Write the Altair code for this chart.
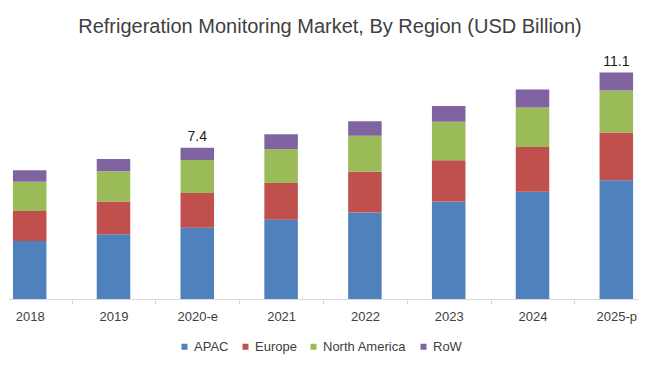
import altair as alt
import pandas as pd

years = ["2018", "2019", "2020-e", "2021", "2022", "2023", "2024", "2025-p"]
regions = ["APAC", "Europe", "North America", "RoW"]
apac = [2.84, 3.17, 3.49, 3.88, 4.24, 4.78, 5.25, 5.82]
europe = [1.47, 1.60, 1.70, 1.80, 1.99, 2.01, 2.19, 2.33]
north_america = [1.43, 1.49, 1.62, 1.66, 1.76, 1.89, 1.94, 2.06]
row = [0.57, 0.60, 0.60, 0.73, 0.72, 0.77, 0.88, 0.88]
total_labels = ["", "", "7.4", "", "", "", "", "11.1"]
colors = ["#4F81BD", "#C0504D", "#9BBB59", "#8064A2"]

series = [apac, europe, north_america, row]
records = []
for ri, (name, vals) in enumerate(zip(regions, series)):
    for y, v in zip(years, vals):
        records.append({"Year": y, "Region": name, "Value": v, "order": ri})
df = pd.DataFrame(records)

tot = pd.DataFrame({
    "Year": years,
    "Total": [sum(s[i] for s in series) for i in range(len(years))],
    "Label": total_labels,
})
tot = tot[tot["Label"] != ""]

step = 83.86
xscale = alt.Scale(domain=years, paddingInner=0.6, paddingOuter=0.0588)
yscale = alt.Scale(domain=[0, 12], nice=False)

bars = alt.Chart(df).mark_bar().encode(
    x=alt.X("Year:N", sort=years, scale=xscale, title=None,
            axis=alt.Axis(labelAngle=0, labelFontSize=13, labelColor="#404040",
                          labelFont="Liberation Sans", tickSize=5, tickColor="#d9d9d9",
                          domainColor="#d9d9d9", labelPadding=6,
                          tickOffset=-step / 2, labelOffset=step / 2)),
    y=alt.Y("Value:Q", stack="zero", scale=yscale, axis=None),
    color=alt.Color("Region:N", scale=alt.Scale(domain=regions, range=colors),
                    legend=alt.Legend(orient="none", legendX=170, legendY=286,
                                      direction="horizontal", title=None,
                                      symbolType="square", symbolSize=36,
                                      symbolStrokeWidth=0, labelFontSize=13,
                                      labelFont="Liberation Sans", labelColor="#404040",
                                      columnPadding=10, labelOffset=3, padding=0)),
    order=alt.Order("order:Q", sort="ascending"),
)

labels = alt.Chart(tot).mark_text(baseline="bottom", dy=-4, fontSize=14,
                                  font="Liberation Sans", color="#1a1a1a").encode(
    x=alt.X("Year:N", sort=years, scale=xscale),
    y=alt.Y("Total:Q", scale=yscale),
    text="Label:N",
)

chart = alt.layer(bars, labels).properties(
    width=630,
    height=245,
    autosize=alt.AutoSizeParams(type="none"),
    padding={"left": 0, "top": 46, "right": 4, "bottom": 59},
    title=alt.TitleParams(
        "Refrigeration Monitoring Market, By Region (USD Billion)",
        fontSize=20, font="Liberation Sans", color="#404040",
        fontWeight="normal", anchor="middle", baseline="alphabetic", offset=1, dx=7,
    ),
).configure_view(stroke=None)

chart.save("out.html", embed_options={"renderer": "svg", "actions": False})
